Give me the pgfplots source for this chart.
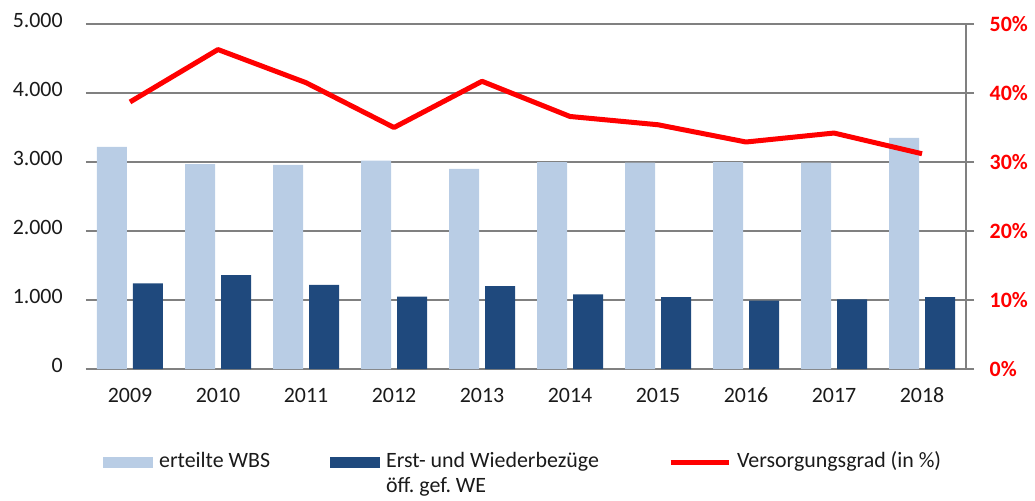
\documentclass[11pt,border=0pt]{standalone}
\usepackage{pgfplots}
\pgfplotsset{compat=1.18}
\usepackage{fontspec}
\setmainfont{Carlito}
\frenchspacing
\definecolor{lightbar}{HTML}{B9CDE5}
\definecolor{darkbar}{HTML}{1F497D}
\definecolor{gridgray}{HTML}{808080}
\definecolor{textcol}{HTML}{1A1A1A}
\begin{document}
\begin{tikzpicture}
\begin{axis}[
  at={(0,0)}, anchor=south west,
  scale only axis, width=440pt, height=172.5pt,
  xmin=-0.5, xmax=9.5, ymin=0, ymax=5000,
  xtick={0,1,2,3,4,5,6,7,8,9},
  xticklabels={2009,2010,2011,2012,2013,2014,2015,2016,2017,2018},
  ytick={0,1000,2000,3000,4000,5000},
  ymajorgrids, grid style={gridgray, line width=1pt},
  axis x line*=bottom, axis y line*=left,
  x axis line style={gridgray, line width=1pt, -},
  y axis line style={draw=none},
  major tick length=0pt,
  xtick style={draw=none}, ytick style={draw=none},
  /pgf/number format/1000 sep={.},
  /pgf/number format/assume math mode=true,
  tick label style={text=textcol, text height=7pt, text depth=0pt},
  xticklabel style={anchor=north, yshift=-6pt},
  yticklabel style={xshift=-7.8pt, yshift=2pt},
]
\addplot[ybar, bar width=15pt, bar shift=-9pt, fill=lightbar, draw=none] coordinates {
(0,3220) (1,2970) (2,2960) (3,3020) (4,2900) (5,3000) (6,2990) (7,3000) (8,2990) (9,3350)};
\addplot[ybar, bar width=15pt, bar shift=9pt, fill=darkbar, draw=none] coordinates {
(0,1240) (1,1360) (2,1220) (3,1050) (4,1200) (5,1080) (6,1040) (7,990) (8,1010) (9,1040)};
\end{axis}
\begin{axis}[
  at={(0,0)}, anchor=south west,
  scale only axis, width=440pt, height=172.5pt,
  xmin=-0.5, xmax=9.5, ymin=0, ymax=50,
  axis x line=none, axis y line*=right,
  y axis line style={gridgray, line width=1pt, -},
  ytick={0,10,20,30,40,50},
  yticklabel={\pgfmathprintnumber{\tick}\%},
  /pgf/number format/assume math mode=true,
  tick align=outside, major tick length=4pt,
  ytick style={gridgray, line width=1pt},
  yticklabel style={text=red, font=\bfseries, xshift=4pt, text height=7pt, text depth=0pt},
  legend columns=3,
  legend style={at={(0.019,-0.238)}, anchor=north west, draw=none, fill=none,
    inner sep=0pt, column sep=0pt, cells={anchor=base west},
    nodes={inner xsep=3pt, inner ysep=0pt, text depth=0pt, text=textcol}},
]
\addlegendimage{fill=lightbar, draw=none, legend image code/.code={\fill (0pt,0pt) rectangle (25pt,5.5pt);}}
\addlegendentry{\makebox[82.5pt][l]{erteilte WBS}}
\addlegendimage{fill=darkbar, draw=none, legend image code/.code={\fill (0pt,0pt) rectangle (25pt,5.5pt);}}
\addlegendentry{\vtop{\baselineskip=12.5pt\hbox to 138pt{Erst- und Wiederbezüge\hfil}\hbox{öff. gef. WE}}}
\addplot[red, line width=2.5pt, line join=round, legend image code/.code={\draw (0pt,2.75pt) -- (29pt,2.75pt);}] coordinates {
(0,38.7) (1,46.3) (2,41.5) (3,35.0) (4,41.7) (5,36.6) (6,35.4) (7,32.9) (8,34.2) (9,31.2)};
\addlegendentry{Versorgungsgrad (in \%)}
\end{axis}
\pgfresetboundingbox
\path (-43pt,-65.5pt) rectangle (474.5pt,184.5pt);
\end{tikzpicture}
\end{document}
